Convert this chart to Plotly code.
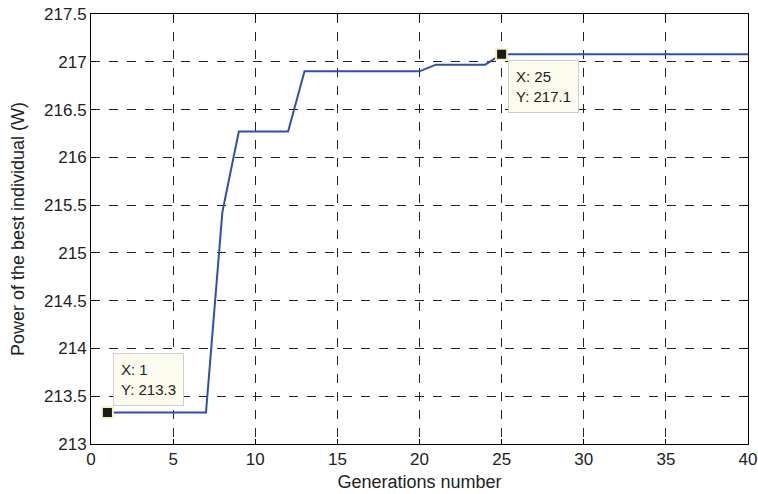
import plotly.graph_objects as go

generations = [1, 2, 3, 4, 5, 6, 7, 8, 9, 10, 11, 12, 13, 14, 15, 16, 17, 18, 19, 20,
               21, 22, 23, 24, 25, 26, 27, 28, 29, 30, 31, 32, 33, 34, 35, 36, 37, 38, 39, 40]
power = [213.33, 213.33, 213.33, 213.33, 213.33, 213.33, 213.33, 215.43, 216.27, 216.27,
         216.27, 216.27, 216.90, 216.90, 216.90, 216.90, 216.90, 216.90, 216.90, 216.90,
         216.97, 216.97, 216.97, 216.97, 217.08, 217.08, 217.08, 217.08, 217.08, 217.08,
         217.08, 217.08, 217.08, 217.08, 217.08, 217.08, 217.08, 217.08, 217.08, 217.08]
tip_x = [1, 25]
tip_y = [213.33, 217.08]
tip_labels = ["X: 1<br>Y: 213.3", "X: 25<br>Y: 217.1"]
x_ticks = [0, 5, 10, 15, 20, 25, 30, 35, 40]
y_ticks = [213, 213.5, 214, 214.5, 215, 215.5, 216, 216.5, 217, 217.5]

fig = go.Figure()
fig.add_trace(go.Scatter(x=generations, y=power, mode="lines",
                         line=dict(color="#2f4fae", width=2), showlegend=False))
fig.add_trace(go.Scatter(x=tip_x, y=tip_y, mode="markers",
                         marker=dict(symbol="square", size=11, color="#1a1a1a",
                                     line=dict(color="#f4f0c0", width=2)),
                         showlegend=False))

font = "Liberation Sans, Arial, sans-serif"
fig.add_annotation(x=tip_x[0], y=tip_y[0], xref="x", yref="y", text=tip_labels[0],
                   showarrow=False, xanchor="left", yanchor="bottom", xshift=6, yshift=6,
                   align="left", bgcolor="#fbfbee", bordercolor="#cfcfcf", borderwidth=1,
                   borderpad=7, font=dict(family=font, size=15, color="#222"))
fig.add_annotation(x=tip_x[1], y=tip_y[1], xref="x", yref="y", text=tip_labels[1],
                   showarrow=False, xanchor="left", yanchor="top", xshift=6, yshift=-6,
                   align="left", bgcolor="#fbfbee", bordercolor="#cfcfcf", borderwidth=1,
                   borderpad=7, font=dict(family=font, size=15, color="#222"))

axis_common = dict(showline=True, linecolor="black", linewidth=1, mirror="ticks",
                   ticks="inside", ticklen=5, tickcolor="black", automargin=False,
                   showgrid=True, gridcolor="#222", griddash="dash", gridwidth=1,
                   zeroline=False, tickfont=dict(family=font, size=17, color="#222"))
fig.update_xaxes(range=[0, 40], tickvals=x_ticks, ticktext=[str(v) for v in x_ticks],
                 title=dict(text="Generations number", font=dict(family=font, size=18, color="#222"), standoff=6),
                 **axis_common)
fig.update_yaxes(range=[213, 217.5], tickvals=y_ticks, ticktext=[f"{v:g}" for v in y_ticks],
                 title=dict(text="Power of the best individual (W)", font=dict(family=font, size=18, color="#222"), standoff=14),
                 **axis_common)
fig.update_layout(width=758, height=494, margin=dict(l=91, r=10, t=14, b=50),
                  plot_bgcolor="white", paper_bgcolor="white")
fig.write_html("out.html")
